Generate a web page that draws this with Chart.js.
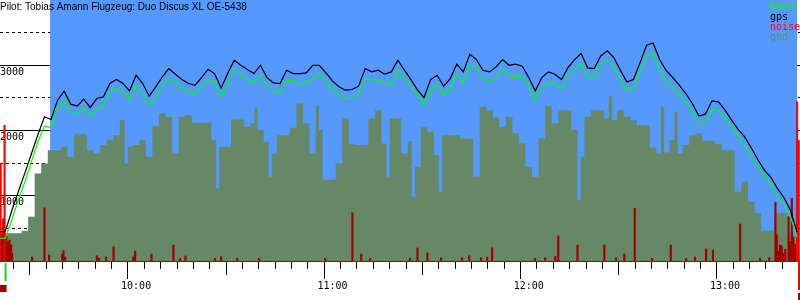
<!DOCTYPE html>
<html>
<head>
<meta charset="utf-8">
<script src="https://cdn.jsdelivr.net/npm/chart.js@4.4.0/dist/chart.umd.min.js"></script>
<style>
  html, body { margin: 0; padding: 0; background: #fff; }
</style>
</head>
<body>
<canvas id="flight" width="800" height="300"></canvas>
<script>
// Flight barogram: baro / gps altitude, engine noise, ground elevation
const title = 'Pilot: Tobias Amann Flugzeug: Duo Discus XL OE-5438';

const sampleTimes = [
  '9:18', '9:20', '9:22', '9:24', '9:26', '9:28', '9:30', '9:32', '9:34', '9:36',
  '9:38', '9:40', '9:42', '9:44', '9:46', '9:48', '9:50', '9:52', '9:54', '9:56',
  '9:58', '10:00', '10:02', '10:04', '10:06', '10:08', '10:10', '10:12', '10:14', '10:16',
  '10:18', '10:20', '10:22', '10:24', '10:26', '10:28', '10:30', '10:32', '10:34', '10:36',
  '10:38', '10:40', '10:42', '10:44', '10:46', '10:48', '10:50', '10:52', '10:54', '10:56',
  '10:58', '11:00', '11:02', '11:04', '11:06', '11:08', '11:10', '11:12', '11:14', '11:16',
  '11:18', '11:20', '11:22', '11:24', '11:26', '11:28', '11:30', '11:32', '11:34', '11:36',
  '11:38', '11:40', '11:42', '11:44', '11:46', '11:48', '11:50', '11:52', '11:54', '11:56',
  '11:58', '12:00', '12:02', '12:04', '12:06', '12:08', '12:10', '12:12', '12:14', '12:16',
  '12:18', '12:20', '12:22', '12:24', '12:26', '12:28', '12:30', '12:32', '12:34', '12:36',
  '12:38', '12:40', '12:42', '12:44', '12:46', '12:48', '12:50', '12:52', '12:54', '12:56',
  '12:58', '13:00', '13:02', '13:04', '13:06', '13:08', '13:10', '13:12', '13:14', '13:16',
  '13:18', '13:20', '13:22'
];

const baroAlt = [
  347, 347, 628, 934, 1215, 1521, 1827, 2067, 2046, 2337,
  2465, 2261, 2261, 2337, 2220, 2337, 2373, 2592, 2643, 2592,
  2465, 2705, 2567, 2373, 2516, 2694, 2796, 2730, 2643, 2608,
  2557, 2669, 2781, 2745, 2506, 2720, 2934, 2863, 2781, 2720,
  2832, 2690, 2608, 2577, 2771, 2771, 2710, 2730, 2796, 2873,
  2761, 2633, 2557, 2480, 2475, 2557, 2796, 2771, 2771, 2720,
  2694, 2934, 2796, 2669, 2557, 2388, 2618, 2710, 2541, 2643,
  2873, 2730, 3000, 2965, 2796, 2745, 2812, 2934, 2847, 2822,
  2832, 2694, 2475, 2669, 2740, 2710, 2643, 2822, 2934, 3026,
  2812, 2822, 3011, 3067, 2975, 2781, 2618, 2643, 2898, 3154,
  3179, 2924, 2765, 2669, 2557, 2439, 2286, 2108, 2118, 2322,
  2312, 2184, 2057, 1914, 1761, 1597, 1444, 1306, 1189, 959,
  873, 679, 367
];

const gpsAlt = [
  450, 450, 770, 1066, 1347, 1643, 1939, 2210, 2169, 2465,
  2603, 2404, 2373, 2480, 2353, 2490, 2516, 2720, 2781, 2720,
  2608, 2847, 2720, 2526, 2669, 2822, 2949, 2863, 2781, 2720,
  2694, 2812, 2939, 2868, 2649, 2878, 3077, 3001, 2934, 2873,
  3000, 2810, 2730, 2720, 2924, 2873, 2873, 2883, 3000, 3000,
  2883, 2761, 2669, 2618, 2628, 2679, 2949, 2898, 2924, 2863,
  2898, 3077, 2924, 2781, 2618, 2506, 2781, 2847, 2679, 2796,
  3016, 2898, 3169, 3087, 2924, 2898, 2975, 3087, 3000, 3016,
  2985, 2812, 2608, 2812, 2898, 2863, 2781, 2965, 3087, 3179,
  2960, 2949, 3143, 3220, 3118, 2924, 2745, 2781, 3036, 3307,
  3342, 3087, 2920, 2812, 2694, 2567, 2414, 2220, 2250, 2455,
  2439, 2312, 2159, 2016, 1903, 1735, 1556, 1393, 1281, 1112,
  970, 780, 440
];

// terrain under the track, read with a few extra points at narrow dips / peaks
const gndTimes = [
  '9:18', '9:20', '9:22', '9:24', '9:26', '9:28', '9:30', '9:32', '9:34', '9:36',
  '9:38', '9:40', '9:42', '9:44', '9:46', '9:48', '9:50', '9:52', '9:54', '9:56',
  '9:57', '9:58', '10:00', '10:02', '10:04', '10:06', '10:08', '10:10', '10:12', '10:14', '10:16',
  '10:18', '10:20', '10:22', '10:24', '10:24.8', '10:26', '10:28', '10:30', '10:32', '10:34', '10:36', '10:36.3',
  '10:38', '10:40', '10:41', '10:42', '10:44', '10:46', '10:48', '10:50', '10:52', '10:54', '10:55.8', '10:56',
  '10:58', '11:00', '11:02', '11:04', '11:06', '11:08', '11:10', '11:12', '11:14', '11:16', '11:17',
  '11:18', '11:20', '11:22', '11:24', '11:24.5', '11:26', '11:28', '11:30', '11:32', '11:33.1', '11:34', '11:36',
  '11:38', '11:40', '11:42', '11:44', '11:46', '11:48', '11:50', '11:52', '11:54', '11:56',
  '11:58', '12:00', '12:02', '12:04', '12:06', '12:08', '12:10', '12:12', '12:14', '12:15.8', '12:16',
  '12:18', '12:20', '12:22', '12:24', '12:25', '12:26', '12:28', '12:30', '12:32', '12:34', '12:36',
  '12:38', '12:40', '12:40.8', '12:42', '12:44', '12:45', '12:46', '12:48', '12:50', '12:52', '12:54', '12:56',
  '12:58', '13:00', '13:02', '13:04', '13:06', '13:08', '13:10', '13:12', '13:14', '13:16',
  '13:18', '13:20', '13:22'
];
const gndAlt = [
  350, 424, 424, 424, 464, 679, 1342, 1495, 1699, 1699,
  1750, 1597, 1944, 1944, 1699, 1648, 1776, 1852, 1929, 2159,
  1495, 1750, 1776, 1852, 1597, 2072, 2261, 2210, 1648, 2210, 2235,
  2123, 2123, 2123, 1852, 1112, 1750, 1750, 2169, 2169, 2057, 2108, 2337,
  2006, 1827, 1291, 1648, 1929, 1929, 2041, 2414, 2108, 1648, 2388, 2006,
  1245, 1245, 1495, 2184, 1791, 1776, 1776, 2184, 2312, 1801, 1291,
  2184, 2184, 1648, 1837, 985, 1444, 2057, 1980, 1623, 1061, 1929, 1929,
  1929, 1878, 1878, 1291, 2363, 2312, 2200, 2057, 2210, 1954,
  1801, 1444, 1291, 1882, 2372, 2108, 2312, 2312, 2006, 934, 1597,
  2210, 2312, 2312, 2184, 2526, 2159, 2312, 2210, 2159, 2082, 2082,
  1735, 1648, 2363, 1663, 1852, 2286, 1648, 1776, 1929, 1954, 1842, 1842,
  1791, 1699, 1699, 1061, 1214, 908, 730, 464, 464, 730,
  730, 424, 321
];

// engine noise spikes (same vertical scale)
const noiseTimes = [
  '9:18.6', '9:19.0', '9:19.4', '9:19.8', '9:20.3', '9:20.9', '9:21.3', '9:21.8', '9:22.1', '9:28.2',
  '9:32.0', '9:33.4', '9:37.4', '9:37.8', '9:38.3', '9:48.0', '9:48.7', '9:50.8', '9:53.1', '9:59.1',
  '9:59.7', '10:04.7', '10:11.4', '10:13.4', '10:15.1', '10:24.1', '10:26.0', '10:30.9', '10:37.6', '10:57.8',
  '11:06.1', '11:08.8', '11:11.5', '11:23.7', '11:26.0', '11:29.0', '11:33.2', '11:39.6', '11:41.8', '11:45.4',
  '11:47.3', '11:48.8', '12:01.9', '12:05.0', '12:08.1', '12:09.0', '12:14.9', '12:23.1', '12:26.7', '12:29.2',
  '12:32.4', '12:37.7', '12:43.4', '12:48.1', '12:50.8', '12:54.2', '12:56.3', '13:04.6', '13:10.7', '13:13.5',
  '13:15.4', '13:15.8', '13:16.2', '13:16.8', '13:17.3', '13:17.7', '13:18.4', '13:19.4', '13:19.9', '13:20.4',
  '13:20.9', '13:21.4', '13:22.0', '13:22.5'
];
const noiseLevel = [
  1500, 400, 650, 2080, 380, 300, 320, 250, 120, 60,
  816, 92, 100, 160, 60, 82, 40, 60, 219, 60,
  153, 107, 245, 40, 77, 40, 66, 40, 40, 40,
  740, 107, 40, 40, 199, 125, 50, 50, 80, 50,
  60, 204, 40, 50, 70, 383, 245, 245, 50, 107,
  806, 40, 245, 40, 60, 184, 168, 566, 40, 50,
  900, 400, 150, 245, 230, 120, 180, 680, 300, 960,
  370, 250, 2440, 1850
];

const hourLabels = ['10:00', '11:00', '12:00', '13:00'];
const altLabels = [1000, 2000, 3000];

const viewStart = '9:18.4';
const viewEnd = '13:22.9';
const skyStart = '9:33.7';
const skyEnd = '13:22.0';
const takeoffTime = '9:20.1';
const landingTime = '13:22.6';

const colors = {
  baro: '#00ff00',
  gps: '#000000',
  noise: '#ff0000',
  noiseLow: '#a00000',
  gnd: '#668866',
  sky: '#5599ff'
};

const toMin = s => {
  const [h, m] = s.split(':');
  return Number(h) * 60 + parseFloat(m);
};
const clock = v => Math.floor(v / 60) + ':' + String(Math.round(v % 60)).padStart(2, '0');
const pts = (times, arr) => times.map((t, i) => ({ x: toMin(t), y: arr[i] }));
const tickVal = c => (c && c.tick ? c.tick.value : null);

// blue sky behind the flight part
const skyPlugin = {
  id: 'sky',
  beforeDatasetsDraw(chart) {
    const { ctx, chartArea, scales: { x } } = chart;
    const x0 = x.getPixelForValue(toMin(skyStart));
    const x1 = x.getPixelForValue(toMin(skyEnd));
    ctx.save();
    ctx.fillStyle = colors.sky;
    ctx.fillRect(x0, chartArea.top, x1 - x0, chartArea.bottom - chartArea.top);
    ctx.restore();
  }
};

// title, legend text and takeoff / landing markers
const overlayPlugin = {
  id: 'overlay',
  afterDraw(chart) {
    const { ctx, chartArea, scales: { x } } = chart;
    ctx.save();
    ctx.textAlign = 'left';
    ctx.textBaseline = 'alphabetic';
    ctx.font = '10px "Liberation Sans", Arial, sans-serif';
    ctx.fillStyle = '#000';
    ctx.fillText(title, chartArea.left, chartArea.top + 10);

    ctx.font = '10px "DejaVu Sans Mono", monospace';
    chart.data.datasets.forEach((ds, i) => {
      ctx.fillStyle = ds.legendColor;
      ctx.fillText(ds.label, chartArea.right - 30, chartArea.top + 10 + i * 10);
    });

    const b = chartArea.bottom;
    const xt = x.getPixelForValue(toMin(takeoffTime));
    ctx.fillStyle = '#22cc22';
    ctx.fillRect(xt - 1, b + 2, 2, 18);
    ctx.fillStyle = colors.noiseLow;
    ctx.fillRect(xt - 6, b + 24, 7, 7);

    const xl = x.getPixelForValue(toMin(landingTime));
    ctx.fillStyle = colors.noise;
    ctx.fillRect(xl - 1, b + 1, 2, 28);
    ctx.fillStyle = colors.noiseLow;
    ctx.fillRect(xl - 1, b + 32, 2, 7);
    ctx.restore();
  }
};

Chart.defaults.font.family = '"DejaVu Sans Mono", monospace';
Chart.defaults.font.size = 10;
Chart.defaults.color = '#000';

try {
new Chart(document.getElementById('flight'), {
  type: 'line',
  data: {
    datasets: [
      {
        label: 'baro', legendColor: colors.baro,
        data: pts(sampleTimes, baroAlt),
        borderColor: colors.baro, borderWidth: 1.2,
        pointRadius: 0, fill: false, order: 0
      },
      {
        label: 'gps', legendColor: colors.gps,
        data: pts(sampleTimes, gpsAlt),
        borderColor: colors.gps, borderWidth: 1.2,
        pointRadius: 0, fill: false, order: 1
      },
      {
        type: 'bar', label: 'noise', legendColor: colors.noise,
        data: pts(noiseTimes, noiseLevel),
        backgroundColor: c => (c.raw && c.raw.y > 1000 ? colors.noise : colors.noiseLow),
        barThickness: 1.5, order: 2
      },
      {
        label: 'gnd', legendColor: colors.gnd,
        data: pts(gndTimes, gndAlt),
        borderWidth: 0, borderColor: colors.gnd,
        backgroundColor: colors.gnd,
        fill: 'origin', stepped: 'middle',
        pointRadius: 0, order: 3
      }
    ]
  },
  options: {
    responsive: false,
    animation: false,
    layout: { padding: 0 },
    plugins: {
      legend: { display: false },
      tooltip: { enabled: false },
      title: { display: false }
    },
    scales: {
      x: {
        type: 'linear',
        min: toMin(viewStart),
        max: toMin(viewEnd),
        offset: false,
        z: 1,
        border: { color: colors.noiseLow, width: 2 },
        grid: {
          drawOnChartArea: false,
          drawTicks: true,
          tickLength: 18,
          tickColor: '#000',
          tickWidth: 1,
          tickBorderDash: c => {
            const v = tickVal(c);
            if (v === null || v % 60 === 0) return [];
            return v % 30 === 0 ? [13, 40] : [7, 40];
          }
        },
        ticks: {
          stepSize: 5,
          includeBounds: false,
          autoSkip: false,
          maxTicksLimit: 1000,
          maxRotation: 0,
          padding: 1,
          callback: v => (hourLabels.includes(clock(v)) ? clock(v) : '')
        },
        afterFit: s => {
          s.height = 39;
          s.paddingLeft = 0;
          s.paddingRight = 0;
        }
      },
      y: {
        min: 0,
        max: 4000,
        z: 1,
        border: {
          display: false,
          dash: c => {
            const v = tickVal(c);
            return v !== null && v % 1000 !== 0 ? [3, 3] : [];
          }
        },
        grid: {
          drawTicks: false,
          lineWidth: 1,
          color: c => {
            const v = tickVal(c);
            return v !== null && v > 0 && v < 4000 ? '#000' : 'rgba(0,0,0,0)';
          }
        },
        ticks: {
          stepSize: 500,
          mirror: true,
          padding: 0,
          labelOffset: 7,
          callback: v => (altLabels.includes(v) ? String(v) : '')
        },
        afterFit: s => {
          s.width = 0;
          s.paddingTop = 0;
          s.paddingBottom = 0;
        }
      }
    }
  },
  plugins: [skyPlugin, overlayPlugin]
});
} catch (e) {
  console.error('chart setup failed', e);
}
</script>
</body>
</html>
